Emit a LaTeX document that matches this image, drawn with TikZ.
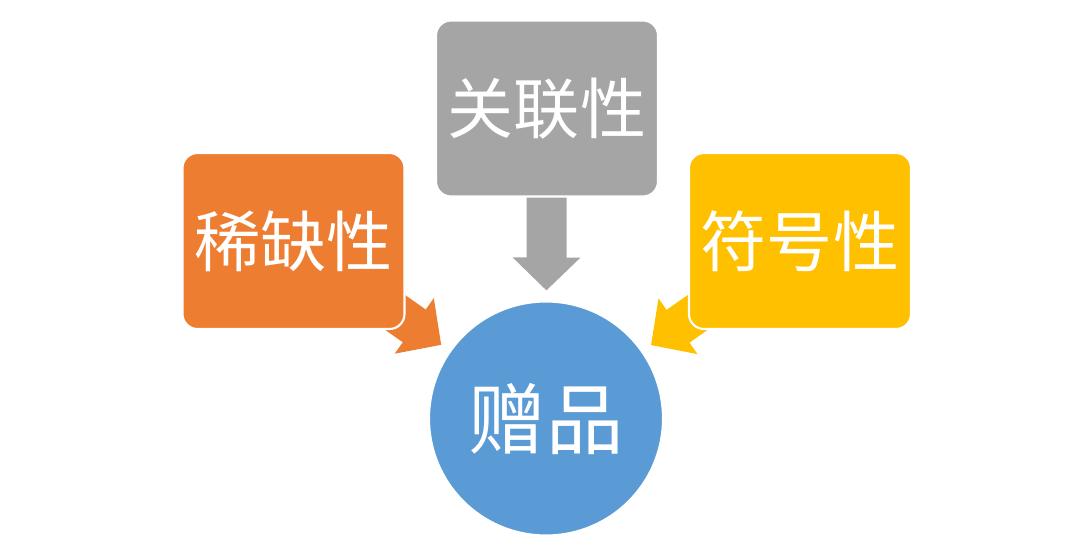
\documentclass[tikz,border=0pt]{standalone}
\usepackage{fontspec}
\newfontfamily\cjk{Noto Sans CJK SC}
\usetikzlibrary{arrows.meta, backgrounds}

\definecolor{boxorange}{HTML}{ED7D31}
\definecolor{boxgray}{HTML}{A5A5A5}
\definecolor{boxyellow}{HTML}{FFC000}
\definecolor{giftblue}{HTML}{5B9BD5}

\begin{document}
\begin{tikzpicture}[
  trait/.style={draw=white, line width=0.6pt, rounded corners=0.15cm,
    minimum width=2.22cm, minimum height=1.76cm, text=white,
    font=\cjk\fontsize{18.8pt}{20pt}\selectfont},
  blockarrow/.style={line width=0.4cm, shorten >=0.1cm,
    -{Triangle[width=0.66cm, length=0.33cm]}}
]
\useasboundingbox (0,0) rectangle (10.8,5.54);

% Draw the three trait boxes
\node[trait, fill=boxorange] (scarcity) at (2.935,3.13) {稀缺性};
\node[trait, fill=boxgray] (relevance) at (5.47,4.455) {关联性};
\node[trait, fill=boxyellow] (symbol) at (8.00,3.13) {符号性};

% Draw the gift circle
\node[circle, draw=white, line width=0.6pt, fill=giftblue, minimum size=2.34cm,
  text=white, font=\cjk\fontsize{22pt}{24pt}\selectfont] (gift) at (5.46,1.355) {赠品};

% Draw block arrows behind the boxes
\begin{scope}[on background layer]
\draw[blockarrow, boxorange] (scarcity.center) -- (gift);
\draw[blockarrow, boxgray] (relevance.center) -- (gift);
\draw[blockarrow, boxyellow] (symbol.center) -- (gift);
\end{scope}
\end{tikzpicture}
\end{document}
